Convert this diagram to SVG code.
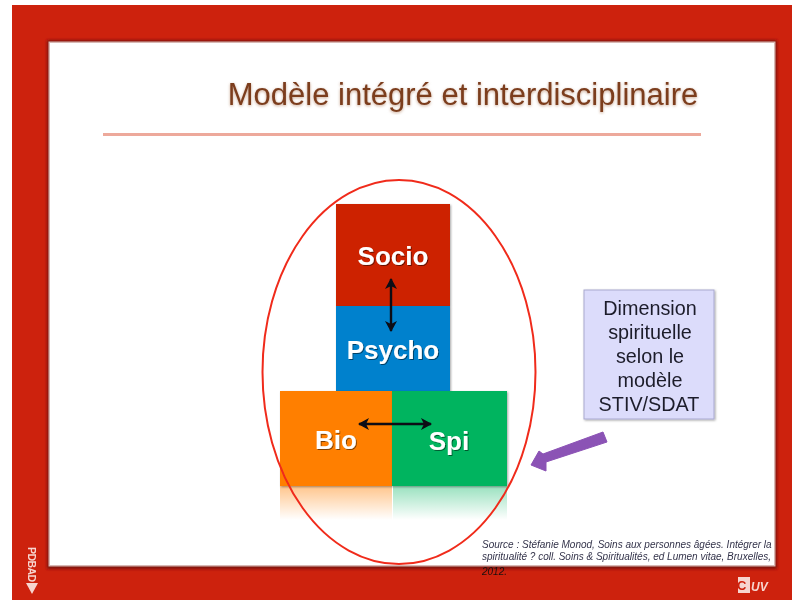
<svg xmlns="http://www.w3.org/2000/svg" width="792" height="600" viewBox="0 0 792 600">
<style>
text{font-family:"Liberation Sans",Arial,sans-serif}
.lab{font-size:26px;font-weight:700;fill:#fff;text-anchor:middle;filter:url(#ts)}
.dim{font-size:19.800px;fill:#1c1c2a;text-anchor:middle}
.src{font-size:10px;font-style:italic;fill:#33334a}
.block{filter:url(#sh)}
.dbl{fill:none;stroke:#0a0a14;stroke-width:2.400;marker-start:url(#ah);marker-end:url(#ah)}
</style>
<defs>
<filter id="all" x="0" y="0" width="100%" height="100%"><feGaussianBlur stdDeviation="0.500"/></filter>
<filter id="soft" x="-5%" y="-5%" width="110%" height="110%"><feGaussianBlur stdDeviation="0.600"/></filter>
<filter id="fr" x="-5%" y="-5%" width="110%" height="110%"><feGaussianBlur stdDeviation="1.600"/></filter>
<filter id="sh" x="-10%" y="-10%" width="120%" height="120%"><feDropShadow dx="1" dy="1" stdDeviation="1" flood-color="#000" flood-opacity=".35"/></filter>
<filter id="ts" x="-10%" y="-20%" width="120%" height="140%"><feDropShadow dx="1" dy="1" stdDeviation=".7" flood-color="#000" flood-opacity=".5"/></filter>
<linearGradient id="rO" x1="0" y1="0" x2="0" y2="1"><stop offset="0" stop-color="#ff7f00" stop-opacity=".45"/><stop offset="1" stop-color="#ff7f00" stop-opacity="0"/></linearGradient>
<linearGradient id="rG" x1="0" y1="0" x2="0" y2="1"><stop offset="0" stop-color="#00b45f" stop-opacity=".4"/><stop offset="1" stop-color="#00b45f" stop-opacity="0"/></linearGradient>
<marker id="ah" markerUnits="userSpaceOnUse" markerWidth="14" markerHeight="14" refX="10" refY="6" orient="auto-start-reverse"><path d="M0 0L11 6L0 12L3 6Z" fill="#0a0a14"/></marker>
</defs>
<g filter="url(#all)">
<rect width="792" height="600" fill="#fff"/>
<rect id="frame" x="12" y="5" width="780" height="595" fill="#cd210c"/>
<rect x="47" y="40" width="730" height="529" fill="#7f1608" filter="url(#fr)"/>
<rect id="sheet-edge" x="48.500" y="41.500" width="727" height="525" fill="#d8b8b4"/>
<rect id="sheet" x="50" y="43" width="724" height="522" fill="#fff"/>
<g id="title">
<text x="463" y="106" font-size="31" fill="#c9a690" text-anchor="middle" filter="url(#fr)">Modèle intégré et interdisciplinaire</text>
<text x="463" y="105" font-size="31" fill="#7b3d1f" text-anchor="middle">Modèle intégré et interdisciplinaire</text>
<rect x="103" y="133" width="598" height="3" fill="#eda99b"/>
</g>
<g id="reflection">
<rect x="280" y="486" width="112" height="34" fill="url(#rO)"/>
<rect x="393" y="486" width="114" height="34" fill="url(#rG)"/>
</g>
<g id="socio"><rect class="block" x="336" y="204" width="114" height="102" fill="#cd2200"/><text class="lab" x="393" y="265">Socio</text></g>
<g id="psycho"><rect class="block" x="336" y="306" width="114" height="86" fill="#0481cd"/><text class="lab" x="393" y="359">Psycho</text></g>
<g id="bio"><rect class="block" x="280" y="391" width="112" height="95" fill="#ff7f00"/><text class="lab" x="336" y="449">Bio</text></g>
<g id="spi"><rect class="block" x="392" y="391" width="115" height="95" fill="#00b45f"/><text class="lab" x="449" y="450">Spi</text></g>
<g id="connectors">
<path class="dbl" d="M391 279V331"/>
<path class="dbl" d="M359 424H431"/>
<path d="M603 432L607 442L546 462L546 471L531 465L539 451L543 454Z" fill="#8b52b5" stroke="#8b52b5" stroke-width="1"/>
</g>
<ellipse id="ring" cx="399" cy="372" rx="136.500" ry="192" fill="none" stroke="#f02c1a" stroke-width="2"/>
<g id="dimension">
<rect x="584" y="290" width="130" height="129" fill="#dcdcfb" stroke="#a9a9d0" stroke-width="1" filter="url(#sh)"/>
<text class="dim" x="650" y="315">Dimension</text>
<text class="dim" x="650" y="339">spirituelle</text>
<text class="dim" x="650" y="363">selon le</text>
<text class="dim" x="650" y="387">modèle</text>
<text class="dim" x="649" y="411">STIV/SDAT</text>
</g>
<g id="source">
<text class="src" x="482" y="548">Source : Stéfanie Monod, Soins aux personnes âgées. Intégrer la</text>
<text class="src" x="482" y="560">spiritualité ? coll. Soins &amp; Spiritualités, ed Lumen vitae, Bruxelles,</text>
<text class="src" x="482" y="575" style="fill:#1a1010">2012.</text>
</g>
<g id="logo-left">
<text transform="translate(28 547) rotate(90)" font-size="10.500" font-weight="700" fill="#f7d5cf" textLength="35">PDBAD</text>
<path d="M26 583H38L32 594Z" fill="#f7d5cf"/>
</g>
<g id="logo-right">
<rect x="738" y="577" width="12" height="16" fill="#f7d5cf"/>
<text x="737" y="590" font-size="13" font-weight="700" fill="#cd210c">C</text>
<text x="751" y="591" font-size="12" font-weight="700" font-style="italic" fill="#f7d5cf">UV</text>
</g>
</g>
</svg>
